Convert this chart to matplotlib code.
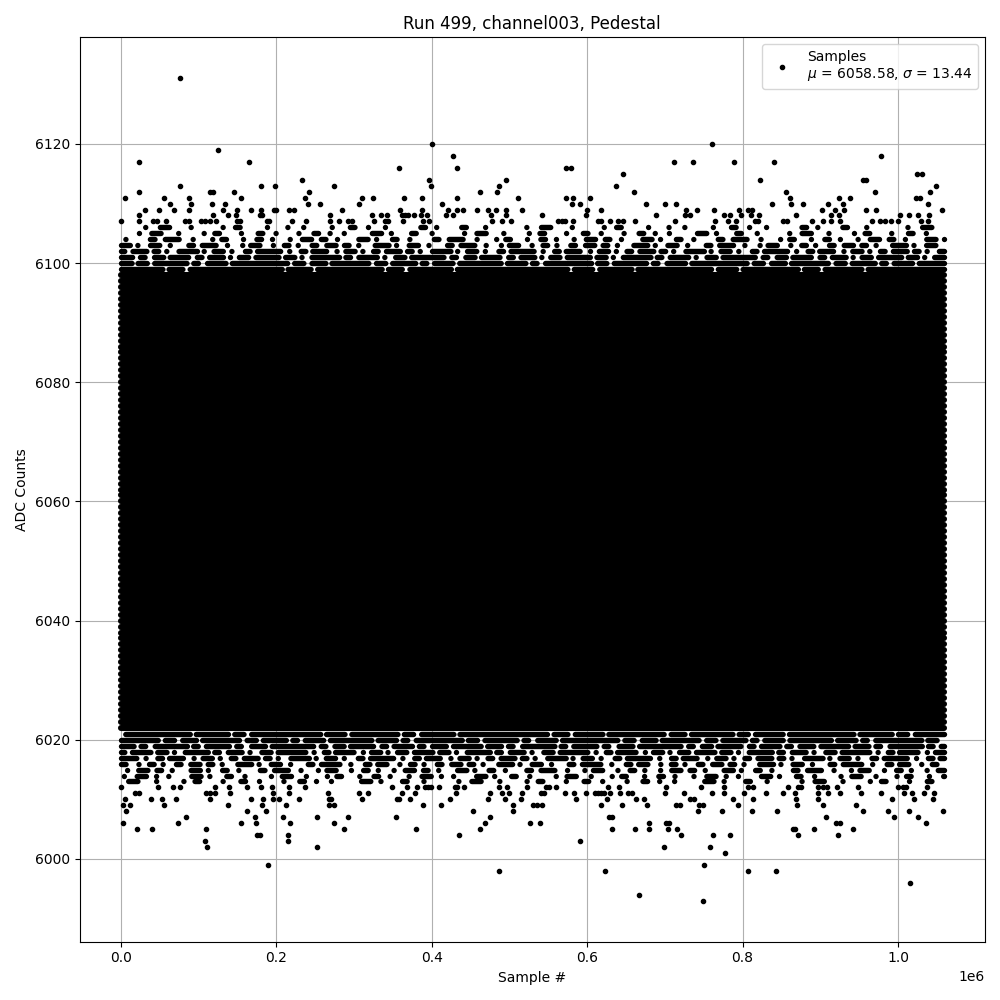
import numpy as np
import matplotlib.pyplot as plt

plt.rcParams['lines.scale_dashes'] = False

# --- data ---
n_samples = 1_059_000          # last sample index (x range 0 .. ~1.06e6)
mean_adc = 6058.58
sigma_adc = 13.44

# ADC levels that are completely filled across the whole run
core_levels = list(range(6022, 6099))

# partly filled levels at the edges of the band, with the visible coverage fraction
edge_levels = [6099, 6100, 6101, 6102, 6103, 6104, 6105, 6106,
               6021, 6020, 6019, 6018, 6017, 6016, 6015, 6014, 6013]
edge_cover = [0.98, 0.94, 0.87, 0.76, 0.62, 0.50, 0.38, 0.30,
              0.97, 0.94, 0.90, 0.83, 0.75, 0.65, 0.55, 0.45, 0.36]

# single visible samples (sample # in units of 1e6, ADC value)
hi_sample = [
    0.0764,
    0.4007, 0.7610,
    0.1253,
    0.4277, 0.9785,
    0.0236, 0.1652, 0.7121, 0.7366, 0.7893, 0.8408,
    0.3582, 0.4329, 0.5731, 0.5795,
    0.6465, 1.0249, 1.0313,
    0.2334, 0.3968, 0.4955, 0.8228, 0.9554, 0.9592,
    0.0764, 0.1806, 0.1986, 0.2746, 0.3998, 0.4869, 0.6375, 1.0493,
    0.0236, 0.1150, 0.1188, 0.1459, 0.2420, 0.4625, 0.4839, 0.6606, 0.8563, 0.9708, 1.0416,
    0.0056, 0.0558, 0.0879, 0.1549, 0.2373, 0.3106, 0.3247, 0.3647, 0.3878, 0.4329,
    0.5113, 0.5731, 0.5821, 0.6040, 0.8614, 0.9245, 0.9386, 1.0236, 1.0287,
    0.0635, 0.0905, 0.1175, 0.1342, 0.2411, 0.2565, 0.3067, 0.4135, 0.5808, 0.5911,
    0.6761, 0.7005, 0.7147, 0.8382, 0.8627, 0.8781, 0.9103, 0.9296, 1.0390,
    0.0313, 0.0493, 0.0686, 0.0879, 0.1317, 0.1497, 0.1677, 0.1806, 0.1973, 0.1999,
    0.2166, 0.2230, 0.2848, 0.3595, 0.3878, 0.4212, 0.4329, 0.4405, 0.4586, 0.4727,
    0.4830, 0.4959, 0.5165, 0.6001, 0.6181, 0.7275, 0.7417, 0.7636, 0.7958, 0.8073,
    0.8125, 0.9026, 0.9193, 0.9309, 0.9592, 0.9720, 1.0570,
    0.0236, 0.1188, 0.1381, 0.1484, 0.1793, 0.1819, 0.2694, 0.3234, 0.3350, 0.3427,
    0.3621, 0.3659, 0.3698, 0.3775, 0.3865, 0.3942, 0.4187, 0.4277, 0.4766, 0.4959,
    0.5422, 0.5988, 0.6889, 0.7263, 0.7327, 0.7765, 0.7842, 0.7983, 0.8111, 0.8215,
    0.8691, 0.9141, 0.9245, 1.0030, 1.0145, 1.0261, 1.0402,
    0.0004, 0.0236, 0.0416, 0.0467, 0.0583, 0.0828, 0.0879, 0.1033, 0.1084, 0.1150,
    0.1227, 0.1497, 0.1535, 0.1883, 0.1909, 0.2205, 0.2385, 0.2694, 0.2810, 0.2925,
    0.2977, 0.3260, 0.3402, 0.3440, 0.3634, 0.3891, 0.3968, 0.4779, 0.4907, 0.5023,
    0.5628, 0.5680, 0.5718, 0.5821, 0.6143, 0.6181, 0.6297, 0.6400, 0.6465, 0.6619,
    0.7134, 0.7649, 0.7816, 0.7919, 0.8163, 0.8202, 0.8524, 0.8575, 0.8897, 0.9039,
    0.9141, 0.9257, 0.9669, 0.9772, 0.9836, 0.9914, 1.0004, 1.0300, 1.0390,
]
hi_adc = ([6131] + [6120] * 2 + [6119] + [6118] * 2 + [6117] * 6 + [6116] * 4
          + [6115] * 3 + [6114] * 6 + [6113] * 8 + [6112] * 11 + [6111] * 19
          + [6110] * 19 + [6109] * 37 + [6108] * 37 + [6107] * 59)

lo_sample = [
    0.0004, 0.0480, 0.0673, 0.0763, 0.1214, 0.1394, 0.1625, 0.1806, 0.1947, 0.2166,
    0.2372, 0.3492, 0.3685, 0.3813, 0.3916, 0.3955, 0.3994, 0.4097, 0.4302, 0.4328,
    0.4418, 0.4869, 0.4972, 0.5229, 0.5474, 0.5512, 0.5602, 0.6272, 0.6413, 0.7018,
    0.7468, 0.7765, 0.8073, 0.8138, 0.8588, 0.8717, 0.8755, 0.8974, 0.9039, 0.9090,
    0.9219, 0.9489, 1.0004, 1.0068, 1.0107, 1.0377,
    0.0184, 0.0236, 0.1098, 0.1149, 0.1214, 0.1407, 0.1960, 0.2166, 0.2668, 0.3067,
    0.3183, 0.3621, 0.3788, 0.4315, 0.4753, 0.4907, 0.4997, 0.5165, 0.5409, 0.5448,
    0.5718, 0.5834, 0.5988, 0.6104, 0.6143, 0.6181, 0.6220, 0.6297, 0.6426, 0.6529,
    0.6580, 0.7005, 0.7250, 0.7610, 0.7765, 0.8022, 0.8305, 0.8524, 0.8678, 0.8974,
    0.9103, 0.9257, 0.9528, 0.9785, 1.0081, 1.0184, 1.0338, 1.0467,
    0.0055, 0.0390, 0.0531, 0.0712, 0.1149, 0.1677, 0.1831, 0.1960, 0.2037, 0.2295,
    0.2681, 0.2707, 0.3106, 0.3556, 0.3582, 0.3723, 0.4238, 0.4727, 0.4946, 0.5152,
    0.5860, 0.6259, 0.6632, 0.6735, 0.7327, 0.7378, 0.7880, 0.8138, 0.8691, 0.8974,
    0.9927, 1.0210, 1.0454,
    0.0030, 0.0120, 0.0558, 0.1381, 0.1819, 0.2127, 0.2681, 0.2745, 0.3891, 0.4122,
    0.5049, 0.5307, 0.5358, 0.5422, 0.6181, 0.6452, 0.6774, 0.7147, 0.7198, 0.7443,
    0.7494, 0.7945, 0.8704, 0.9039, 0.9463,
    0.0068, 0.1625, 0.1870, 0.4534, 0.5049, 0.7430, 0.7739, 0.8124, 0.8447, 0.9553,
    0.9875, 1.0145, 1.0583,
    0.0841, 0.1728, 0.2089, 0.2526, 0.2925, 0.3543, 0.4753, 0.6284, 0.6323, 0.9077,
    0.9952, 1.0261,
    0.0030, 0.0737, 0.1548, 0.1741, 0.2179, 0.2745, 0.4689, 0.5262, 0.5396, 0.6799,
    0.7018, 0.7057, 0.9206, 0.9257, 1.0365,
    0.0210, 0.0403, 0.1098, 0.2874, 0.3801, 0.4624, 0.6323, 0.6619, 0.6799, 0.7044,
    0.7160, 0.8653, 0.8679, 0.8923, 0.9425,
    0.1754, 0.1793, 0.2153, 0.4354, 0.7211, 0.7623, 0.7842, 0.8717, 0.9232,
    0.1085, 0.2153, 0.5911,
    0.1111, 0.2526, 0.6993, 0.7584,
    0.7778,
    0.1896, 0.7507,
    0.4869, 0.6233, 0.8073, 0.8434,
    1.0158,
    0.6671,
    0.7494,
]
lo_adc = ([6012] * 46 + [6011] * 48 + [6010] * 33 + [6009] * 25 + [6008] * 13
          + [6007] * 12 + [6006] * 15 + [6005] * 15 + [6004] * 9 + [6003] * 3
          + [6002] * 4 + [6001] + [5999] * 2 + [5998] * 4 + [5996] + [5994] + [5993])

# --- drawing ---
dot_pt = 3.9      # size of one sample dot in points
core_lw = 4.4

fig, ax = plt.subplots(figsize=(10, 10))

for lvl in core_levels:
    ax.plot([0, n_samples], [lvl, lvl], color='k', lw=core_lw,
            solid_capstyle='round')

# broken rows: short runs of touching dots separated by gaps,
# run length grows with the row's coverage
run_shape = [1.0, 0.4, 2.0, 0.6, 1.4, 0.4, 1.0, 2.4, 0.5, 0.8, 1.6, 0.5,
             1.2, 0.4, 0.9, 1.8]
gap_shape = [1.0, 2.6, 0.5, 1.7, 1.2, 3.1, 0.8, 1.4, 2.3, 0.6, 1.9, 1.3,
             0.9, 2.0, 1.1, 0.7]
for i, (lvl, cov) in enumerate(zip(edge_levels, edge_cover)):
    mean_run = 1.0 / (1.0 - cov) ** 0.6
    runs = [max(1, round(r * mean_run)) for r in run_shape]
    on = [(n - 1) * dot_pt * 0.85 for n in runs]
    visible = sum(o + dot_pt for o in on)
    gap_total = visible * (1 - cov) / cov
    off = [gap_total * w / sum(gap_shape) + dot_pt for w in gap_shape]
    seq = []
    for a, b in zip(on, off):
        seq += [max(a, 0.01), b]
    offset = (i * 53.0) % sum(seq)
    ax.plot([0, n_samples], [lvl, lvl], color='k', lw=dot_pt,
            linestyle=(offset, seq), dash_capstyle='round')

xs = np.array(hi_sample + lo_sample) * 1e6
ys = np.array(hi_adc + lo_adc)
ax.plot(xs, ys, 'k.',
        label=f'Samples\n$\\mu$ = {mean_adc:.2f}, $\\sigma$ = {sigma_adc:.2f}')

ax.set_title('Run 499, channel003, Pedestal')
ax.set_xlabel('Sample #')
ax.set_ylabel('ADC Counts')
ax.grid(True)
ax.legend(loc='upper right')

plt.tight_layout()
plt.savefig('out.png', dpi=100)
